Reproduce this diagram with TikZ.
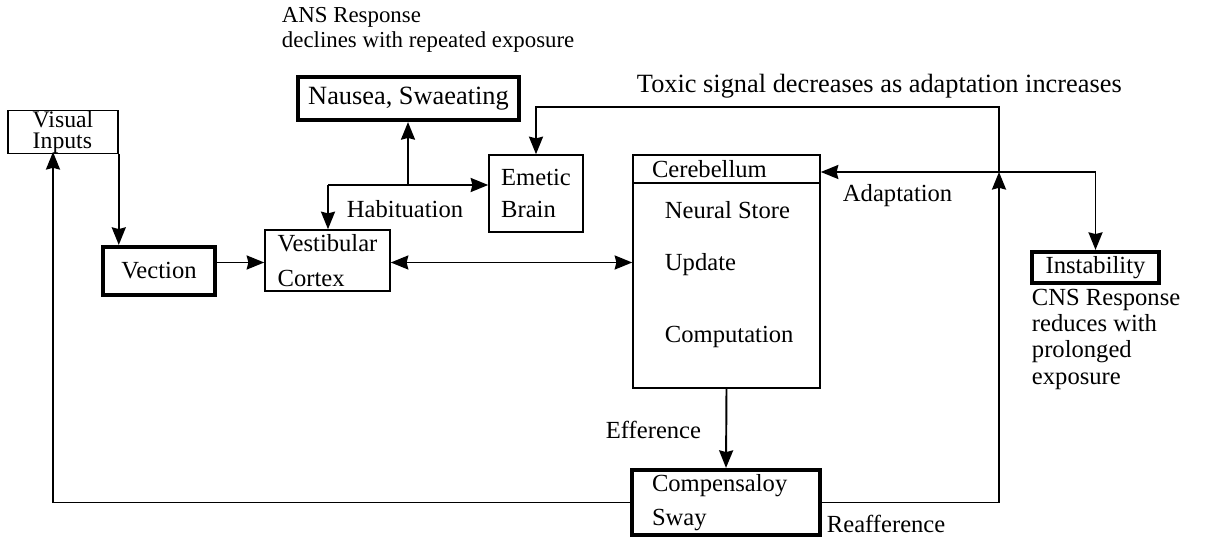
\documentclass[tikz,border=0pt]{standalone}
\usepackage{fontspec}
\setmainfont{Liberation Serif}
\usetikzlibrary{arrows.meta}
\tikzset{
  blk/.style={draw, line width=0.9pt, inner sep=0pt, align=left, font=\fontsize{14}{20}\selectfont},
  thk/.style={blk, line width=2.4pt},
  lbl/.style={inner sep=0pt, font=\fontsize{14}{16}\selectfont},
}
\begin{document}
\begin{tikzpicture}[x=0.02cm, y=-0.02cm, line width=1.1pt, >={Stealth[length=10pt,width=8pt,inset=1pt]}]
  \useasboundingbox (0,0) rectangle (1206,540);
  % boxes
  \node[blk, minimum width=2.2cm, minimum height=0.8cm, font=\fontsize{13.5}{12}\selectfont] (vis) at (63,132) {Visual\\Inputs};
  \node[thk, minimum width=2.24cm, minimum height=0.96cm] (vec) at (159,271) {Vection};
  \node[blk, minimum width=2.5cm, minimum height=1.22cm] (ves) at (327.5,260.5) {Vestibular\\Cortex};
  \path (ves.center) ++(0,2) coordinate (vc);
  \node[thk, minimum width=4.42cm, minimum height=0.86cm, font=\fontsize{15}{18}\selectfont] (nau) at (408.5,98.5) {Nausea, Swaeating};
  \node[blk, minimum width=1.88cm, minimum height=1.54cm, font=\fontsize{14}{18}\selectfont] (eme) at (536,193.5) {Emetic\\Brain};
  \node[blk, minimum height=0.56cm, inner xsep=0.38cm, text width=2.98cm] (cerh) at (726.5,169) {Cerebellum};
  \node[blk, minimum width=3.74cm, minimum height=4.1cm] (cerb) at (726.5,285.5) {};
  \node[thk, minimum height=1.3cm, inner xsep=0.4cm, text width=2.96cm, font=\fontsize{14}{19}\selectfont] (comp) at (726,502.5) {Compensaloy\\Sway};
  \node[thk, minimum width=2.54cm, minimum height=0.62cm] (ins) at (1095.5,267.5) {Instability};
  % cerebellum contents
  \node[lbl, anchor=west] (ns) at (664,210) {Neural Store};
  \node[lbl, anchor=west] (up) at (664,265) {Update};
  \node[lbl, anchor=west] (cp) at (664,337) {Computation};
  % connectors
  \coordinate (hl) at (328,185);
  \coordinate (hj) at (408,185);
  \coordinate (ad) at (999,172);
  \coordinate (tx) at (999,107);
  \coordinate (fb) at (53,152);
  \draw[->] (vis.south east) -- (vis.south east |- vec.north);
  \draw[->] (vec.east |- vc) -- (vc -| ves.west);
  \draw[<->] (vc -| ves.east) -- (vc -| cerb.west);
  \draw[->] (hl) -- (hl -| eme.west);
  \draw[->] (hl) -- (hl |- ves.north);
  \draw[->] (hj) -- (hj |- nau.south);
  \draw[->] (comp.east) -| (ad);
  \draw[->] (ad) -- (tx) -| (eme.north);
  \draw[->] (ad) -- (ad -| cerh.east);
  \draw[->] (ad) -| (ins.north);
  \draw[->] (cerb.south) -- (comp.north);
  \draw[->] (comp.west) -| (fb);
  % labels
  \node[lbl, anchor=north west, align=left, font=\fontsize{13}{14.5}\selectfont] (ans) at (281,6) {ANS Response\\declines with repeated exposure};
  \node[lbl, anchor=west, font=\fontsize{15}{18}\selectfont] (tox) at (636,86) {Toxic signal decreases as adaptation increases};
  \node[lbl, anchor=west] (habl) at (346,209) {Habituation};
  \node[lbl, anchor=west] (adl) at (842,196) {Adaptation};
  \node[lbl, anchor=east] (efl) at (702,430) {Efference};
  \node[lbl, anchor=west] (rfl) at (826,524) {Reafference};
  \node[lbl, anchor=north west, align=left, font=\fontsize{14}{15}\selectfont] (cns) at (1031,288) {CNS Response\\reduces with\\prolonged\\exposure};
\end{tikzpicture}
\end{document}
